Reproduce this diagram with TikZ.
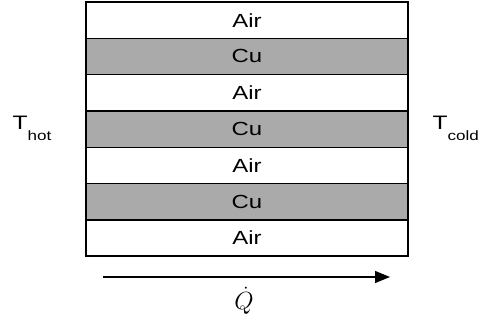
\documentclass[tikz,border=0pt]{standalone}
\usepackage{fontspec}
\setmainfont{Liberation Sans}
\usetikzlibrary{arrows.meta}
\definecolor{cugray}{RGB}{170,170,170}
\newcommand{\wide}[1]{\scalebox{1.26}[1]{#1}}
\tikzset{
  layer/.style={draw=black, line width=1.4pt, minimum width=322pt, minimum height=36.3pt,
    inner sep=0pt, font=\fontsize{19}{20}\selectfont},
  air/.style={layer, fill=white},
  copper/.style={layer, fill=cugray},
  flow/.style={line width=1.3pt, -{Triangle[length=15pt,width=12pt]}},
}
\begin{document}
\begin{tikzpicture}[x=1pt,y=-1pt]
  \useasboundingbox (0,0) rectangle (485,322);
  % stack of layers, top to bottom
  \node[air]    (l1) at (247, 20.15)  {\wide{Air}};
  \node[copper] (l2) at (247, 56.45)  {\wide{Cu}};
  \node[air]    (l3) at (247, 92.75)  {\wide{Air}};
  \node[copper] (l4) at (247, 129.05) {\wide{Cu}};
  \node[air]    (l5) at (247, 165.35) {\wide{Air}};
  \node[copper] (l6) at (247, 201.65) {\wide{Cu}};
  \node[air]    (l7) at (247, 237.95) {\wide{Air}};
  % boundary temperatures
  \node[anchor=base west, inner sep=0pt] (thot) at (12.5,129)
    {\wide{\fontsize{19.5}{20}\selectfont T\raisebox{-11pt}{\fontsize{13.5}{14}\selectfont hot}}};
  \node[anchor=base west, inner sep=0pt] (tcold) at (432.5,129)
    {\wide{\fontsize{19.5}{20}\selectfont T\raisebox{-11pt}{\fontsize{13.5}{14}\selectfont cold}}};
  % heat flow
  \coordinate (qs) at (103,277);
  \coordinate (qe) at (390,277);
  \draw[flow] (qs) -- (qe);
  \node[inner sep=0pt, font=\fontsize{26}{28}\selectfont] (q) at (244,301) {$\dot{Q}$};
\end{tikzpicture}
\end{document}
